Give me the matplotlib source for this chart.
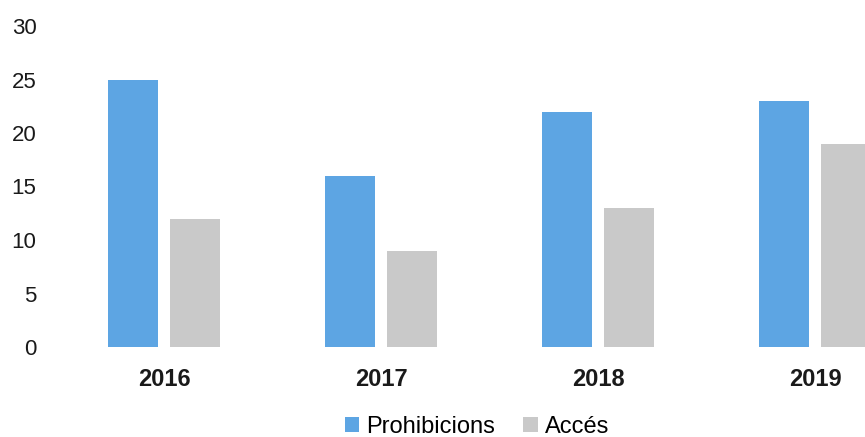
import numpy as np
import matplotlib.pyplot as plt

# dades llegides del gràfic
anys = ['2016', '2017', '2018', '2019']
prohibicions = [25, 16, 22, 23]
acces = [12, 9, 13, 19]

plt.rcParams['font.family'] = ['Liberation Sans', 'DejaVu Sans']

fig = plt.figure(figsize=(8.65, 4.37), dpi=100)
# l'eix continua més enllà de la vora dreta (la imatge original està retallada)
ax = fig.add_axes([56 / 865, 90 / 437, 868 / 865, 321 / 437])

x = np.arange(len(anys))
w = 0.23
ax.bar(x - 0.145, prohibicions, w, color='#5DA5E3', label='Prohibicions')
ax.bar(x + 0.14, acces, w, color='#C9C9C9', label='Accés')

ax.set_xlim(-0.5, len(anys) - 0.5)
ax.set_ylim(0, 30)
ax.set_yticks(range(0, 31, 5))
ax.set_xticks(x)
ax.set_xticklabels(anys, fontsize=17, fontweight='bold', color='#1a1a1a')
ax.tick_params(axis='y', labelsize=16, length=0, pad=14, labelcolor='#1a1a1a')
ax.tick_params(axis='x', length=0, pad=15)
for s in ax.spines.values():
    s.set_visible(False)

fig.legend(loc='center', bbox_to_anchor=(477 / 865, 10 / 437), ncol=2, frameon=False,
           fontsize=17, handlelength=0.6, handleheight=0.6, handletextpad=0.3,
           columnspacing=1.2)

fig.savefig('out.png', dpi=100)
